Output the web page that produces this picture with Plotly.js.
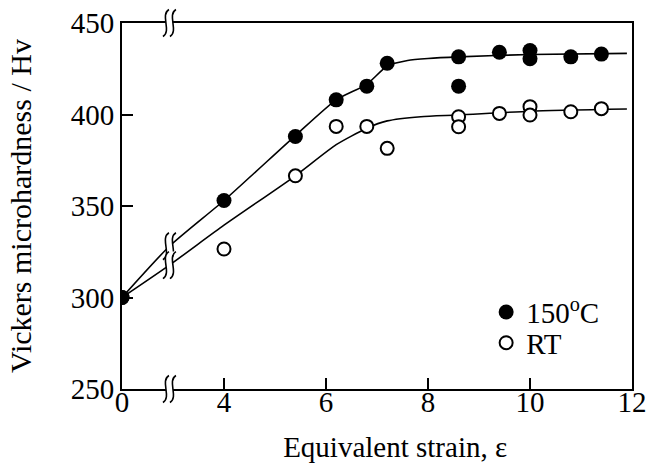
<!DOCTYPE html>
<html>
<head>
<meta charset="utf-8">
<script src="https://cdn.plot.ly/plotly-3.0.1.min.js"></script>
<style>html,body{margin:0;padding:0;background:#fff;}#chart{width:650px;height:472px;}</style>
</head>
<body>
<div id="chart"></div>
<script>
// ---- data (equivalent strain, Vickers microhardness) ----
const strain150 = [0, 4, 5.4, 6.2, 6.8, 7.2, 8.6, 8.6, 9.4, 10, 10, 10.8, 11.4];
const hv150     = [300, 353, 388, 408, 415.5, 428, 431.5, 415.5, 434, 435, 430.5, 431.5, 433];
const strainRT  = [0, 4, 5.4, 6.2, 6.8, 7.2, 8.6, 8.6, 9.4, 10, 10, 10.8, 11.4];
const hvRT      = [300, 326.5, 366.5, 393.5, 393.5, 381.5, 398.8, 393.3, 400.6, 404.3, 399.7, 401.5, 403.2];

// fitted guide curves
const fitStrain150 = [0, 1.86, 4, 5.4, 6.2, 6.8, 7.2, 7.6, 8.0, 8.6, 10, 11.9];
const fitHv150     = [300, 328, 353, 388.5, 408, 416.5, 426.5, 429.5, 430.6, 431.5, 432.8, 433.4];
const fitStrainRT  = [0, 1.86, 4, 5.4, 6.2, 6.8, 7.2, 7.86, 8.6, 10, 11.9];
const fitHvRT      = [300, 317.7, 339.5, 366.5, 383.5, 392.5, 396.5, 398.8, 399.7, 401.8, 403];

const xTickStrain = [0, 4, 6, 8, 10, 12];
const xTickText   = ['0', '4', '6', '8', '10', '12'];
const yTickVals   = [250, 300, 350, 400, 450];
const seriesNames = ['150<sup>o</sup>C', 'RT'];

// broken x axis: 0..4 is compressed to half scale
function axisPos(s) { return s >= 4 ? s : 2 + s / 2; }
const breakStrain = 1.86;

const FONT = 'Liberation Serif';

const traces = [
  {x: fitStrain150.map(axisPos), y: fitHv150, mode: 'lines', type: 'scatter',
   line: {color: '#000', width: 1.6, shape: 'spline', smoothing: 0.6}, showlegend: false, hoverinfo: 'skip'},
  {x: fitStrainRT.map(axisPos), y: fitHvRT, mode: 'lines', type: 'scatter',
   line: {color: '#000', width: 1.6, shape: 'spline', smoothing: 0.6}, showlegend: false, hoverinfo: 'skip'},
  {x: strainRT.map(axisPos), y: hvRT, mode: 'markers', type: 'scatter', name: seriesNames[1],
   legend: 'legend2',
   marker: {symbol: 'circle', size: 13, color: '#fff', line: {color: '#000', width: 2}}},
  {x: strain150.map(axisPos), y: hv150, mode: 'markers', type: 'scatter', name: seriesNames[0],
   legend: 'legend',
   marker: {symbol: 'circle', size: 15, color: '#000', line: {width: 0}}}
];

// break symbols ( two S strokes with white gap )
function sPath(dx) {
  return `M ${dx+3},13.5 C ${dx-6},8 ${dx+6},-8 ${dx-3},-13.5`;
}
function makeBreak(xa, ya, yref) {
  const base = {xref: 'x', yref: yref, xsizemode: 'pixel', ysizemode: 'pixel',
                xanchor: xa, yanchor: ya, layer: 'above'};
  return [
    Object.assign({}, base, {type: 'path',
      path: 'M -0.5,13.5 C -9.5,8 2.5,-8 -6.5,-13.5 L 0.5,-13.5 C 9.5,-8 -2.5,8 6.5,13.5 Z',
      fillcolor: '#fff', line: {width: 0}}),
    Object.assign({}, base, {type: 'path', path: sPath(-3.5) + ' ' + sPath(3.5),
      line: {color: '#000', width: 1.6}})
  ];
}
const bx = axisPos(breakStrain);
const shapes = [].concat(
  makeBreak(bx, 1, 'paper'),
  makeBreak(bx, 0, 'paper'),
  makeBreak(bx, fitHv150[1], 'y'),
  makeBreak(bx, fitHvRT[1], 'y')
);

const layout = {
  width: 650, height: 472,
  margin: {l: 122, r: 18, t: 23, b: 83},
  paper_bgcolor: '#fff', plot_bgcolor: '#fff',
  font: {family: FONT, size: 29, color: '#000'},
  xaxis: {
    range: [2, 12], tickmode: 'array', tickvals: xTickStrain.map(axisPos), ticktext: xTickText,
    ticks: 'inside', ticklen: 11, tickwidth: 2, tickcolor: '#000', ticklabelstandoff: -14,
    showline: true, linewidth: 2, linecolor: '#000', mirror: true,
    showgrid: false, zeroline: false, automargin: false,
    tickfont: {family: FONT, size: 29, color: '#000'},
    title: {text: '&nbsp;&nbsp;&nbsp;&nbsp;&nbsp;Equivalent strain, ε', standoff: 20,
            font: {family: FONT, size: 29, color: '#000'}}
  },
  yaxis: {
    range: [250, 450], tickmode: 'array', tickvals: yTickVals,
    ticks: 'inside', ticklen: 11, tickwidth: 2, tickcolor: '#000',
    showline: true, linewidth: 2, linecolor: '#000', mirror: true,
    showgrid: false, zeroline: false, automargin: false,
    tickfont: {family: FONT, size: 29, color: '#000'},
    title: {text: 'Vickers microhardness / Hv', standoff: 30,
            font: {family: FONT, size: 30, color: '#000'}}
  },
  legend: {x: 0.714, y: 0.21, xanchor: 'left', yanchor: 'middle', bgcolor: 'rgba(0,0,0,0)',
           font: {family: FONT, size: 29, color: '#000'}, itemsizing: 'trace'},
  legend2: {x: 0.714, y: 0.126, xanchor: 'left', yanchor: 'middle', bgcolor: 'rgba(0,0,0,0)',
           font: {family: FONT, size: 29, color: '#000'}, itemsizing: 'trace'},
  shapes: shapes,
  showlegend: true
};

Plotly.newPlot('chart', traces, layout, {displayModeBar: false, staticPlot: true});
</script>
</body>
</html>
